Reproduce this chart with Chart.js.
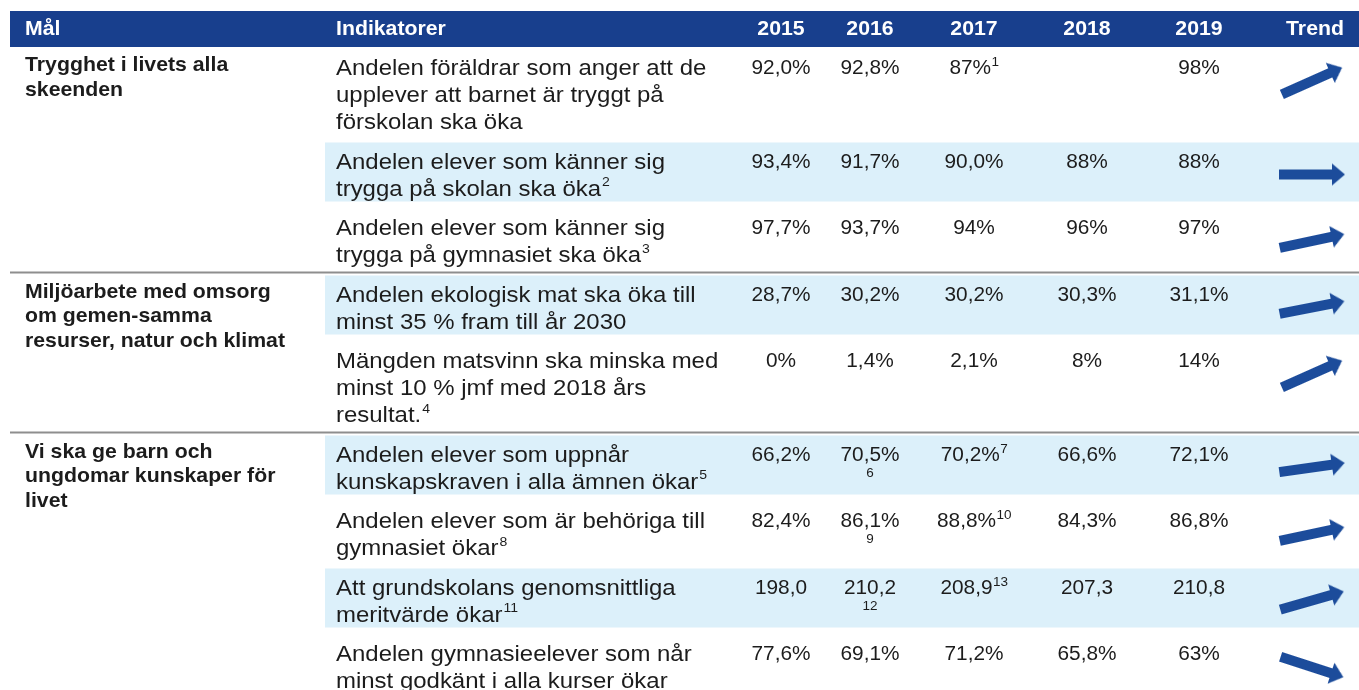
<!DOCTYPE html>
<html lang="sv">
<head>
<meta charset="utf-8">
<title>Mål och indikatorer</title>
<script src="https://cdn.jsdelivr.net/npm/chart.js@4.4.1/dist/chart.umd.min.js"></script>
<style>
  html, body { margin: 0; padding: 0; background: #fff; }
  #wrap { width: 1359px; height: 690px; }
</style>
</head>
<body>
<div id="wrap"><canvas id="tabell" width="1359" height="690"></canvas></div>
<script>
// Kolumnrubriker
const rubrikMal = 'Mål';
const rubrikInd = 'Indikatorer';
const ar = ['2015', '2016', '2017', '2018', '2019'];
const rubrikTrend = 'Trend';

// Mål (radbrytningar som i originalet) och vilken indikatorrad de börjar på
const mal = [
  'Trygghet i livets alla\nskeenden',
  'Miljöarbete med omsorg\nom gemen-samma\nresurser, natur och klimat',
  'Vi ska ge barn och\nungdomar kunskaper för\nlivet'
];
const malStart = [0, 3, 5];

// Indikatorer + fotnot (upphöjd efter sista ordet)
const indikatorer = [
  'Andelen föräldrar som anger att de\nupplever att barnet är tryggt på\nförskolan ska öka',
  'Andelen elever som känner sig\ntrygga på skolan ska öka',
  'Andelen elever som känner sig\ntrygga på gymnasiet ska öka',
  'Andelen ekologisk mat ska öka till\nminst 35 % fram till år 2030',
  'Mängden matsvinn ska minska med\nminst 10 % jmf med 2018 års\nresultat.',
  'Andelen elever som uppnår\nkunskapskraven i alla ämnen ökar',
  'Andelen elever som är behöriga till\ngymnasiet ökar',
  'Att grundskolans genomsnittliga\nmeritvärde ökar',
  'Andelen gymnasieelever som når\nminst godkänt i alla kurser ökar'
];
const indikatorNot = ['', '2', '3', '', '4', '5', '8', '11', ''];

// Värden per år
const v2015 = ['92,0%', '93,4%', '97,7%', '28,7%', '0%', '66,2%', '82,4%', '198,0', '77,6%'];
const v2016 = ['92,8%', '91,7%', '93,7%', '30,2%', '1,4%', '70,5%', '86,1%', '210,2', '69,1%'];
const v2017 = ['87%', '90,0%', '94%', '30,2%', '2,1%', '70,2%', '88,8%', '208,9', '71,2%'];
const v2018 = ['', '88%', '96%', '30,3%', '8%', '66,6%', '84,3%', '207,3', '65,8%'];
const v2019 = ['98%', '88%', '97%', '31,1%', '14%', '72,1%', '86,8%', '210,8', '63%'];
const varden = [v2015, v2016, v2017, v2018, v2019];

// Fotnoter vid värdena
const not2016Under = ['', '', '', '', '', '6', '9', '12', ''];
const not2017Upp = ['1', '', '', '', '', '7', '10', '13', ''];

// Trendpilar, vinkel i grader (negativ = uppåt)
const trendVinkel = [-24, 0, -12, -11, -24, -8, -12, -16, 18];

// Layout
const BREDD = 1359, HOJD = 690;
const HUVUD_BLA = '#183f8d';
const BAND_BLA = '#dcf0fa';
const PIL_BLA = '#1c4c9b';
const TEXT = '#1c1c1c';
const FONT = '"Liberation Sans", Arial, sans-serif';
const STRACK = 1.08;               // originalet är lite bredare än högt
const KOL_MAL = 25, KOL_IND = 336, BAND_X = 325, VANSTER = 10;
const KOL_AR = [781, 870, 974, 1087, 1199];
const KOL_TREND = 1312, RUBRIK_TREND = 1315;
const HUVUD_TOPP = 11, HUVUD_BOTTEN = 47;
const TABELL_TOPP = 49, RAD_H = 27, RAD_PAD = 12.5;

const radRader = indikatorer.map(s => s.split('\n').length);
const radTopp = [];
let t = TABELL_TOPP;
radRader.forEach(n => { radTopp.push(t); t += n * RAD_H + RAD_PAD; });
const forstaRad = radTopp.map(r => r + 20);

function skriv(ctx, s, x, y, size, bold, align, color) {
  ctx.save();
  ctx.font = (bold ? 'bold ' : '') + size + 'px ' + FONT;
  ctx.fillStyle = color;
  ctx.textBaseline = 'middle';
  ctx.textAlign = align;
  ctx.translate(x, y);
  ctx.scale(STRACK, 1);
  ctx.fillText(s, 0, 0);
  ctx.restore();
}
function bredd(ctx, s, size, bold) {
  ctx.save();
  ctx.font = (bold ? 'bold ' : '') + size + 'px ' + FONT;
  const w = ctx.measureText(s).width * STRACK;
  ctx.restore();
  return w;
}

const tabellPlugin = {
  id: 'tabell',
  beforeDatasetsDraw(chart) {
    const { ctx, scales: { x, y } } = chart;
    const px = v => x.getPixelForValue(v);
    const py = v => y.getPixelForValue(v);

    // Rubrikrad
    ctx.fillStyle = HUVUD_BLA;
    ctx.fillRect(px(VANSTER), py(HUVUD_TOPP), px(BREDD) - px(VANSTER), py(HUVUD_BOTTEN) - py(HUVUD_TOPP));
    const hy = py((HUVUD_TOPP + HUVUD_BOTTEN) / 2 + 1);
    skriv(ctx, rubrikMal, px(KOL_MAL), hy, 19.7, true, 'left', '#fff');
    skriv(ctx, rubrikInd, px(KOL_IND), hy, 19.7, true, 'left', '#fff');
    ar.forEach((a, i) => skriv(ctx, a, px(KOL_AR[i]), hy, 19.7, true, 'center', '#fff'));
    skriv(ctx, rubrikTrend, px(RUBRIK_TREND), hy, 19.7, true, 'center', '#fff');

    // Ljusblå band på varannan rad
    indikatorer.forEach((s, i) => {
      if (i % 2 === 1) {
        ctx.fillStyle = BAND_BLA;
        const y0 = py(radTopp[i]), y1 = py(radTopp[i] + radRader[i] * RAD_H + 5);
        ctx.fillRect(px(BAND_X), y0, px(BREDD) - px(BAND_X), y1 - y0);
      }
    });

    // Linjer mellan målgrupper
    ctx.strokeStyle = '#8e8e8e';
    ctx.lineWidth = 2;
    malStart.slice(1).forEach(r => {
      const ly = py(radTopp[r] - 3);
      ctx.beginPath();
      ctx.moveTo(px(VANSTER), ly);
      ctx.lineTo(px(BREDD), ly);
      ctx.stroke();
    });

    // Mål
    mal.forEach((m, g) => {
      m.split('\n').forEach((rad, k) => {
        skriv(ctx, rad, px(KOL_MAL), py(forstaRad[malStart[g]] - 3 + k * 24.5), 19.7, true, 'left', TEXT);
      });
    });

    // Indikatorer
    indikatorer.forEach((s, i) => {
      const rader = s.split('\n');
      rader.forEach((rad, k) => {
        const ry = py(forstaRad[i] + k * RAD_H);
        skriv(ctx, rad, px(KOL_IND), ry, 22.2, false, 'left', TEXT);
        if (k === rader.length - 1 && indikatorNot[i]) {
          const w = bredd(ctx, rad, 22.2, false);
          skriv(ctx, indikatorNot[i], px(KOL_IND) + w + 1, ry - 7, 13, false, 'left', TEXT);
        }
      });
    });

    // Värden
    varden.forEach((kol, j) => {
      kol.forEach((v, i) => {
        if (!v) return;
        const cx = px(KOL_AR[j]), cy = py(forstaRad[i]);
        const upp = j === 2 ? not2017Upp[i] : '';
        if (upp) {
          const wb = bredd(ctx, v, 19.3, false), wu = bredd(ctx, upp, 12.5, false);
          const x0 = cx - (wb + wu) / 2;
          skriv(ctx, v, x0, cy, 19.3, false, 'left', TEXT);
          skriv(ctx, upp, x0 + wb + 0.5, cy - 6, 12.5, false, 'left', TEXT);
        } else {
          skriv(ctx, v, cx, cy, 19.3, false, 'center', TEXT);
        }
        if (j === 1 && not2016Under[i]) {
          skriv(ctx, not2016Under[i], cx, py(forstaRad[i] + 18), 12.5, false, 'center', TEXT);
        }
      });
    });
  }
};

// Pilsymbol som punktstil
const pil = document.createElement('canvas');
pil.width = 68; pil.height = 24;
(() => {
  const c = pil.getContext('2d');
  c.fillStyle = PIL_BLA;
  c.beginPath();
  c.moveTo(1, 7); c.lineTo(54, 7); c.lineTo(54, 1); c.lineTo(67, 12);
  c.lineTo(54, 23); c.lineTo(54, 17); c.lineTo(1, 17);
  c.closePath();
  c.fill();
})();

const pilPunkter = radTopp.map(r => ({ x: KOL_TREND, y: r + 32 }));

new Chart(document.getElementById('tabell'), {
  type: 'scatter',
  data: {
    datasets: [{
      data: pilPunkter,
      pointStyle: pil,
      rotation: c => trendVinkel[c.dataIndex],
      clip: false
    }]
  },
  options: {
    responsive: false,
    animation: false,
    events: [],
    layout: { padding: 0, autoPadding: false },
    plugins: { legend: { display: false }, tooltip: { enabled: false } },
    scales: {
      x: { type: 'linear', min: 0, max: BREDD, display: false },
      y: { type: 'linear', min: 0, max: HOJD, reverse: true, display: false }
    }
  },
  plugins: [tabellPlugin]
});
</script>
</body>
</html>
